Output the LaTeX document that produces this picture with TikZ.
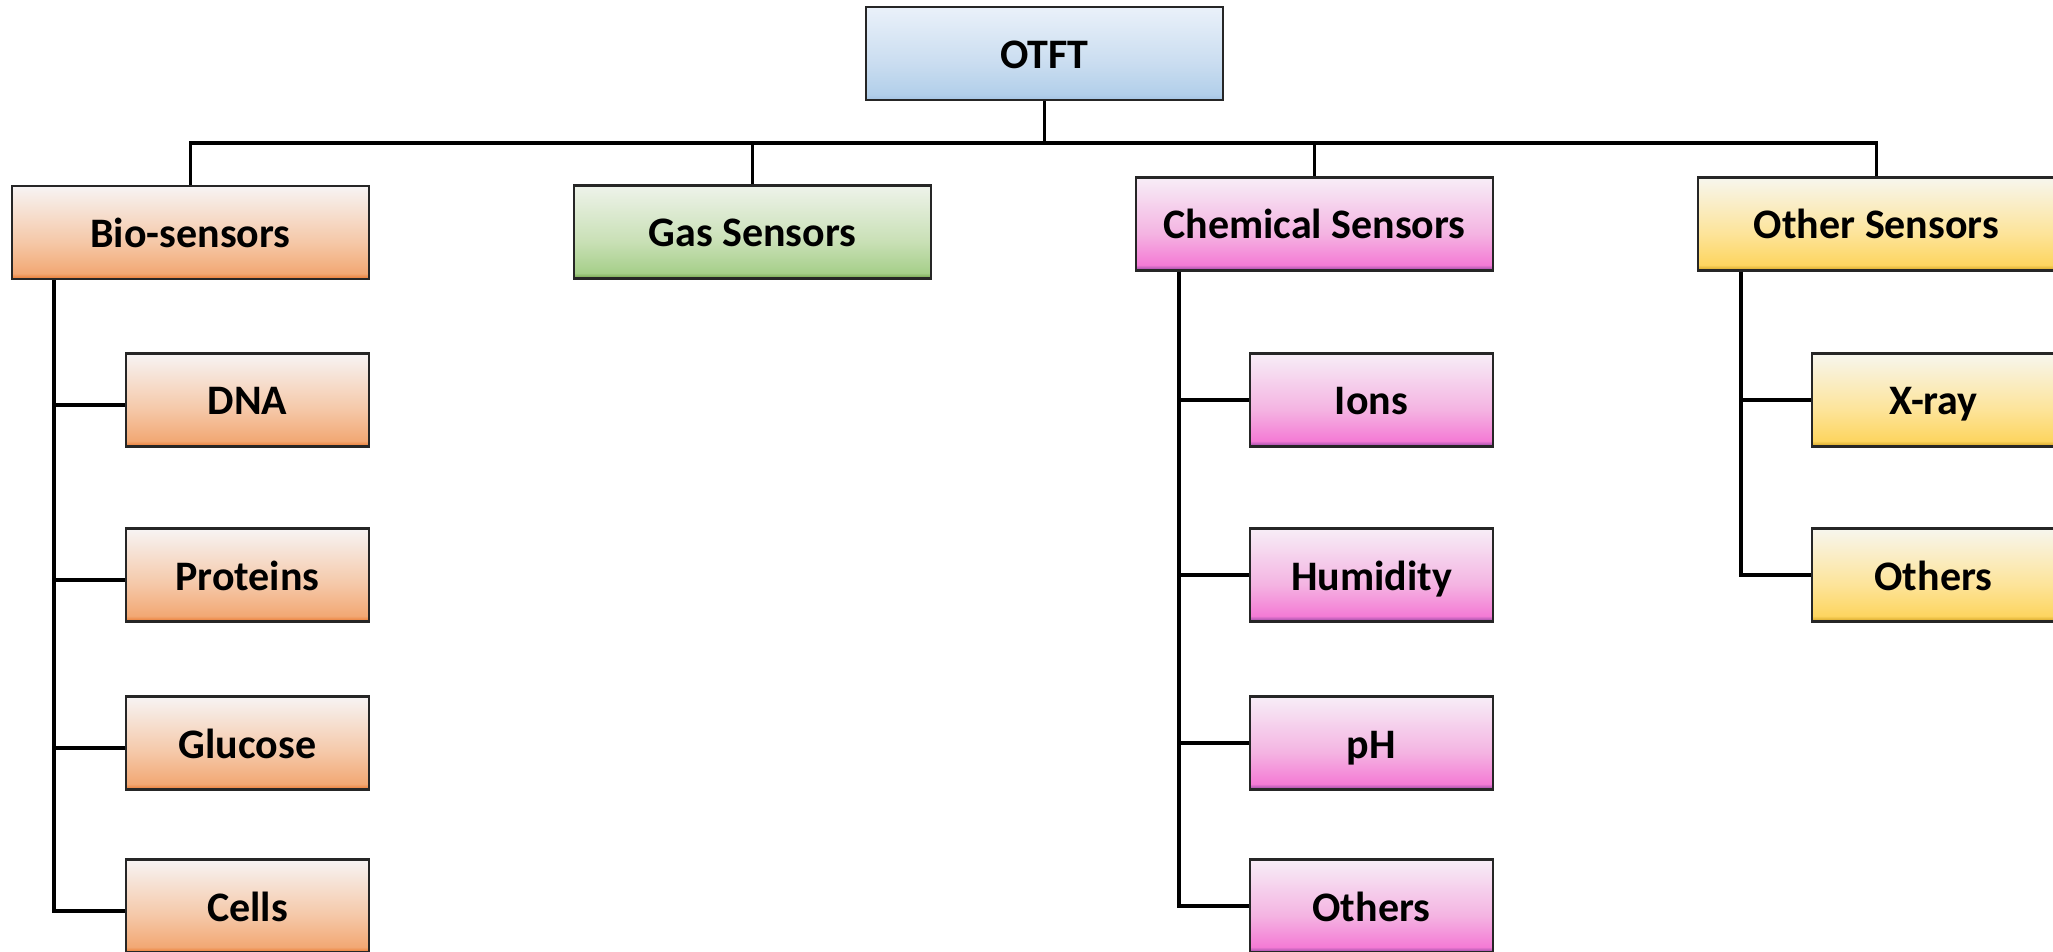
\documentclass[tikz,border=0pt]{standalone}
\usepackage{fontspec}
\setmainfont{Carlito}
\definecolor{orA}{HTML}{F7F4F4}\definecolor{orB}{HTML}{F5C8A8}\definecolor{orC}{HTML}{F2A874}\definecolor{orD}{HTML}{E9772F}
\definecolor{grA}{HTML}{EEF3EA}\definecolor{grB}{HTML}{C9E0B6}\definecolor{grC}{HTML}{A6CF8A}\definecolor{grD}{HTML}{6FA046}
\definecolor{blA}{HTML}{EAF1FA}\definecolor{blB}{HTML}{CADDF0}\definecolor{blC}{HTML}{B2CFEA}\definecolor{blD}{HTML}{A3C2E2}
\definecolor{piA}{HTML}{F7EEF7}\definecolor{piB}{HTML}{F4B4E2}\definecolor{piC}{HTML}{F47BD5}\definecolor{piD}{HTML}{8E44A0}
\definecolor{yeA}{HTML}{F7F6EE}\definecolor{yeB}{HTML}{FDE49A}\definecolor{yeC}{HTML}{FDD560}\definecolor{yeD}{HTML}{CF9E1E}
\pgfdeclareverticalshading{orshade}{100bp}{color(0bp)=(orD); color(25bp)=(orD); color(28bp)=(orC); color(45bp)=(orB); color(75bp)=(orA); color(100bp)=(orA)}
\pgfdeclareverticalshading{grshade}{100bp}{color(0bp)=(grD); color(25bp)=(grD); color(28bp)=(grC); color(45bp)=(grB); color(75bp)=(grA); color(100bp)=(grA)}
\pgfdeclareverticalshading{blshade}{100bp}{color(0bp)=(blD); color(25bp)=(blD); color(28bp)=(blC); color(45bp)=(blB); color(75bp)=(blA); color(100bp)=(blA)}
\pgfdeclareverticalshading{pishade}{100bp}{color(0bp)=(piD); color(25bp)=(piD); color(28bp)=(piC); color(45bp)=(piB); color(75bp)=(piA); color(100bp)=(piA)}
\pgfdeclareverticalshading{yeshade}{100bp}{color(0bp)=(yeD); color(25bp)=(yeD); color(28bp)=(yeC); color(45bp)=(yeB); color(75bp)=(yeA); color(100bp)=(yeA)}
\begin{document}
\begin{tikzpicture}[x=0.5pt,y=-0.5pt,
  box/.style={draw=black!85, line width=1.1pt, shade, inner sep=0pt,
    minimum height=46.5pt, text height=18pt, text depth=3pt,
    font=\fontsize{21}{25}\selectfont\bfseries},
  bigbox/.style={box, minimum width=178.5pt},
  smallbox/.style={box, minimum width=121.5pt},
  conn/.style={line width=1.6pt, line join=miter}]
\useasboundingbox (0,0) rectangle (2053,952);
\node[bigbox, shading=blshade] (otft) at (1044.5,53.5) {OTFT};
\node[bigbox, shading=orshade] (bio) at (190.5,232.5) {Bio-sensors};
\node[bigbox, shading=grshade] (gas) at (752.5,232) {Gas Sensors};
\node[bigbox, shading=pishade] (chem) at (1314.5,224) {Chemical Sensors};
\node[bigbox, shading=yeshade] (other) at (1876.5,224) {Other Sensors};
\node[smallbox, shading=orshade] (dna) at (247.5,400) {DNA};
\node[smallbox, shading=orshade] (prot) at (247.5,575) {Proteins};
\node[smallbox, shading=orshade] (gluc) at (247.5,743) {Glucose};
\node[smallbox, shading=orshade] (cells) at (247.5,906) {Cells};
\node[smallbox, shading=pishade] (ions) at (1371.5,400) {Ions};
\node[smallbox, shading=pishade] (hum) at (1371.5,575) {Humidity};
\node[smallbox, shading=pishade] (ph) at (1371.5,743) {pH};
\node[smallbox, shading=pishade] (cothers) at (1371.5,906) {Others};
\node[smallbox, shading=yeshade] (xray) at (1933.5,400) {X-ray};
\node[smallbox, shading=yeshade] (oothers) at (1933.5,575) {Others};
\coordinate (bus) at (0,143);
\draw[conn] (otft.south) -- (otft.south |- bus);
\draw[conn] (bio.north) -- (bio.north |- bus) -- (other.north |- bus) -- (other.north);
\draw[conn] (gas.north |- bus) -- (gas.north);
\draw[conn] (chem.north |- bus) -- (chem.north);
\coordinate (bt) at ([xshift=21.5pt]bio.south west);
\coordinate (ct) at ([xshift=22pt]chem.south west);
\coordinate (ot) at ([xshift=22pt]other.south west);
\draw[conn] (bt) |- ([yshift=-2.5pt]cells.west);
\draw[conn] (bt |- dna.west) ++(0,5) -- ([yshift=-2.5pt]dna.west);
\draw[conn] (bt |- prot.west) ++(0,5) -- ([yshift=-2.5pt]prot.west);
\draw[conn] (bt |- gluc.west) ++(0,5) -- ([yshift=-2.5pt]gluc.west);
\draw[conn] (ct) |- (cothers.west);
\draw[conn] (ct |- ions.west) -- (ions.west);
\draw[conn] (ct |- hum.west) -- (hum.west);
\draw[conn] (ct |- ph.west) -- (ph.west);
\draw[conn] (ot) |- (oothers.west);
\draw[conn] (ot |- xray.west) -- (xray.west);
\end{tikzpicture}
\end{document}
